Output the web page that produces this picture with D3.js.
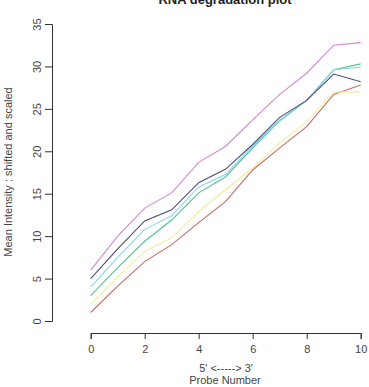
<!DOCTYPE html>
<html>
<head>
<meta charset="utf-8">
<script src="https://cdn.jsdelivr.net/npm/d3@7"></script>
<style>
    body { margin: 0; background: #fff; }
    svg { display: block; font-family: "Liberation Sans", Arial, sans-serif; }
</style>
</head>
<body>
<svg width="369" height="387"></svg>
<script>
"use strict";
// probe positions and one series per array (chip)
var probes = [0, 1, 2, 3, 4, 5, 6, 7, 8, 9, 10];
var seriesMagenta = [6, 10.0, 13.3, 15.1, 18.7, 20.6, 23.7, 26.7, 29.2, 32.5, 32.8];
var seriesNavy    = [5, 8.5, 11.8, 13.1, 16.3, 17.9, 20.8, 24.0, 26.0, 29.1, 28.2];
var seriesCyan    = [4, 7.5, 10.8, 12.4, 15.8, 17.3, 20.6, 23.7, 26.0, 29.6, 29.9];
var seriesGreen   = [3, 6.3, 9.4, 11.9, 15.1, 17.0, 20.4, 23.6, 26.0, 29.6, 30.3];
var seriesYellow  = [2, 5.2, 8.2, 9.8, 12.9, 15.5, 18.0, 21.0, 23.5, 27.0, 27.0];
var seriesRed     = [1, 4.1, 7.0, 9.0, 11.6, 14.1, 17.8, 20.4, 22.9, 26.7, 27.8];
var xTicks = [0, 2, 4, 6, 8, 10];
var yTicks = [0, 5, 10, 15, 20, 25, 30, 35];

var series = [
    {values: seriesRed, color: "#c76a6a"},
    {values: seriesYellow, color: "#f6ec9c"},
    {values: seriesGreen, color: "#52c28e"},
    {values: seriesCyan, color: "#8bd7e8"},
    {values: seriesNavy, color: "#4a4e7a"},
    {values: seriesMagenta, color: "#cd8ad1"}
];

var svg = d3.select("svg");

var x = d3.scaleLinear().domain([0, 10]).range([90.7, 360.7]);
var y = d3.scaleLinear().domain([0, 35]).range([321, 24]);

var line = d3.line()
    .x(function(d, i) { return x(probes[i]); })
    .y(function(d) { return y(d); });

svg.append("g")
    .selectAll("path")
    .data(series)
    .enter().append("path")
    .attr("d", function(d) { return line(d.values); })
    .attr("fill", "none")
    .attr("stroke", function(d) { return d.color; })
    .attr("stroke-width", 1.1);

// y axis, R style with rotated labels
var yAxis = svg.append("g")
    .attr("transform", "translate(52,0)")
    .call(d3.axisLeft(y).tickValues(yTicks).tickSize(7).tickFormat(d3.format("d")));
yAxis.selectAll(".tick text")
    .attr("x", null).attr("dy", null)
    .attr("transform", "translate(-15,0) rotate(-90)")
    .attr("text-anchor", "middle")
    .attr("dominant-baseline", "central");

// x axis below the plot
var xAxis = svg.append("g")
    .attr("transform", "translate(0,333)")
    .call(d3.axisBottom(x).tickValues(xTicks).tickSize(6));
xAxis.selectAll(".tick text").attr("y", 16).attr("dy", null)
    .attr("dominant-baseline", "central");

[yAxis, xAxis].forEach(function(ax) {
    ax.select(".domain").attr("stroke", "#333");
    ax.selectAll(".tick line").attr("stroke", "#333");
    ax.selectAll(".tick text").attr("fill", "#444").style("font-size", "11px");
    ax.attr("font-family", null);
});

svg.append("text")
    .attr("x", 225).attr("y", 4)
    .attr("text-anchor", "middle")
    .style("font-weight", "bold").style("font-size", "13px")
    .attr("fill", "#222")
    .text("RNA degradation plot");

svg.append("text")
    .attr("x", 226).attr("y", 368)
    .attr("text-anchor", "middle").attr("dominant-baseline", "central")
    .style("font-size", "11px").attr("fill", "#444")
    .text("5' <-----> 3'");

svg.append("text")
    .attr("x", 225).attr("y", 380)
    .attr("text-anchor", "middle").attr("dominant-baseline", "central")
    .style("font-size", "11px").attr("fill", "#444")
    .text("Probe Number");

svg.append("text")
    .attr("transform", "translate(8,172) rotate(-90)")
    .attr("text-anchor", "middle").attr("dominant-baseline", "central")
    .style("font-size", "11px").attr("fill", "#444")
    .text("Mean Intensity : shifted and scaled");
</script>
</body>
</html>
